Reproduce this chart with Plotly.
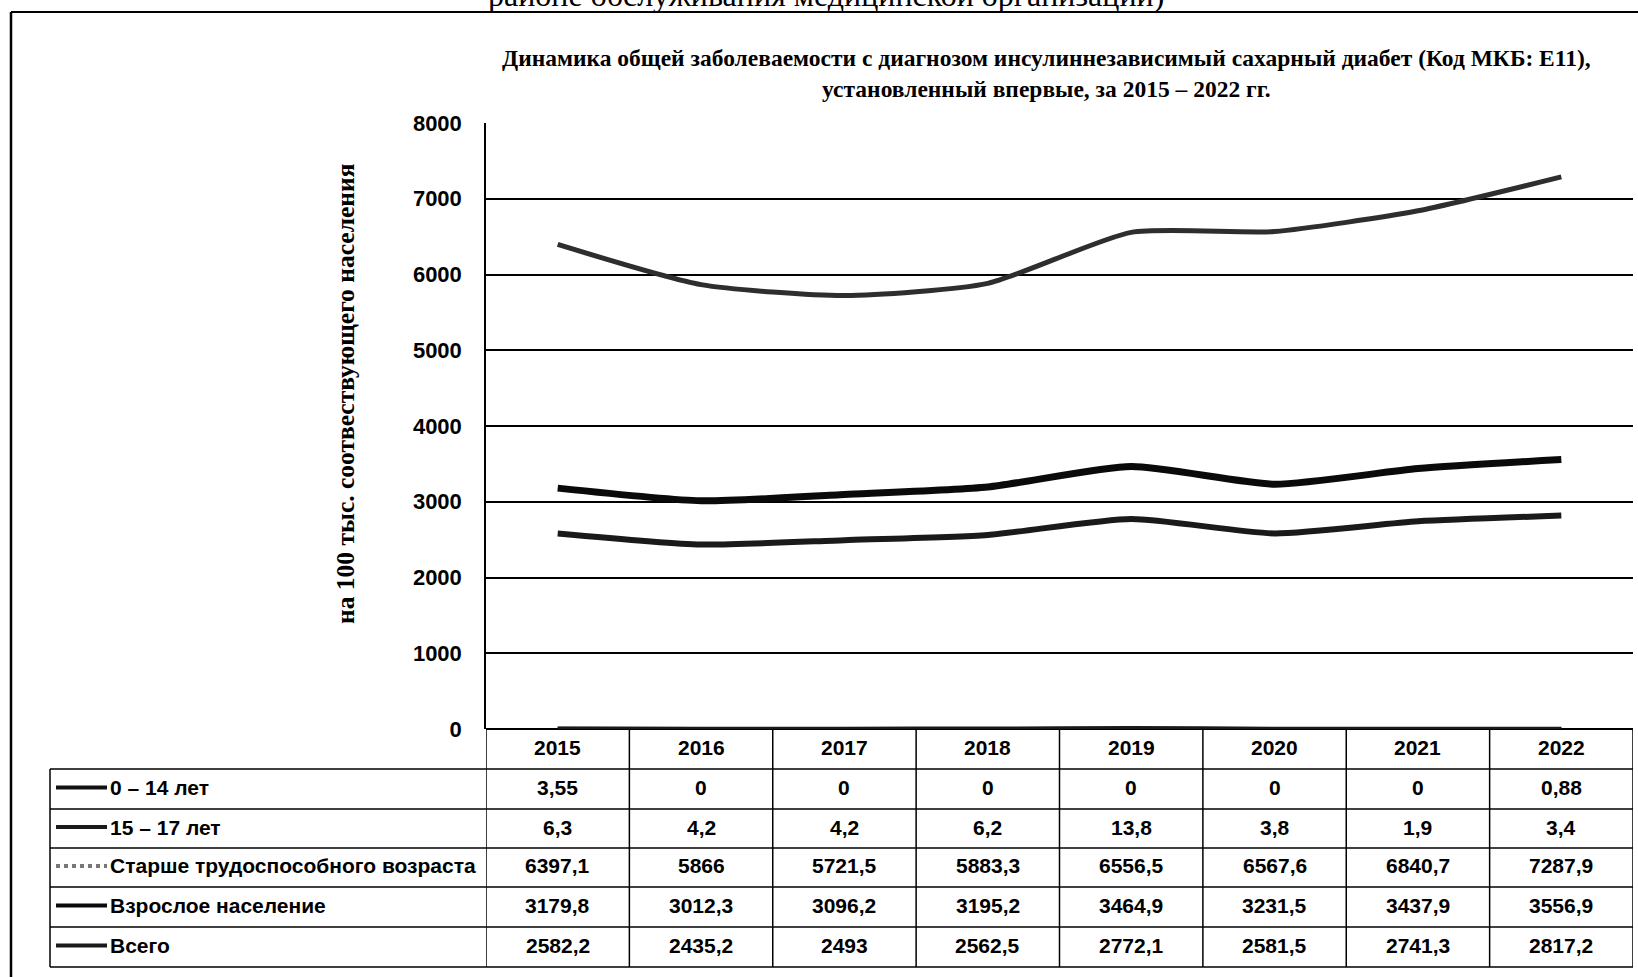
import plotly.graph_objects as go

# ---------------- data ----------------
years = ["2015", "2016", "2017", "2018", "2019", "2020", "2021", "2022"]
series_names = ["0 – 14 лет", "15 – 17 лет", "Старше трудоспособного возраста",
                "Взрослое население", "Всего"]
s_0_14 = [3.55, 0, 0, 0, 0, 0, 0, 0.88]
s_15_17 = [6.3, 4.2, 4.2, 6.2, 13.8, 3.8, 1.9, 3.4]
s_old = [6397.1, 5866, 5721.5, 5883.3, 6556.5, 6567.6, 6840.7, 7287.9]
s_adult = [3179.8, 3012.3, 3096.2, 3195.2, 3464.9, 3231.5, 3437.9, 3556.9]
s_total = [2582.2, 2435.2, 2493, 2562.5, 2772.1, 2581.5, 2741.3, 2817.2]
y_ticks = [0, 1000, 2000, 3000, 4000, 5000, 6000, 7000, 8000]

title_text = ("<b>Динамика общей заболеваемости с диагнозом инсулиннезависимый сахарный диабет (Код МКБ: E11),"
              "<br>установленный впервые, за 2015 – 2022 гг.</b>")
y_title = "<b>на 100 тыс. соотвествующего населения</b>"
top_text = "районе обслуживания медицинской организации)"

all_series = [s_0_14, s_15_17, s_old, s_adult, s_total]
colors = ["#111111", "#1a1a1a", "#2e2e2e", "#0a0a0a", "#1a1a1a"]
widths = [4, 4, 5, 7, 6]

# ---------------- geometry (pixels) ----------------
W, H = 1638, 977
L, R, T, B = 486, 5, 123, 248
PW = W - L - R
PH = H - T - B
y0px = T + PH  # pixel of value 0


def py(px):
    return (y0px - px) / PH


def pxx(px):
    return (px - L) / PW


fmt = lambda v: str(int(v)) if float(v).is_integer() else f"{v:g}".replace(".", ",")

fig = go.Figure()
for name, vals, c, w in zip(series_names, all_series, colors, widths):
    fig.add_trace(go.Scatter(x=list(range(len(years))), y=vals, mode="lines", name=name,
                             line=dict(color=c, width=w, shape="spline", smoothing=0.6),
                             showlegend=False, hovertemplate=name + ": %{y}<extra></extra>"))

shapes = []
annotations = []
line_k = dict(color="black", width=1.5)

# table rows (pixel boundaries)
row_edges = [y0px, 769, 809, 848, 887, 927, 967]
n = len(years)
# vertical column lines
for i in range(n + 1):
    shapes.append(dict(type="line", xref="x", yref="paper", x0=i - 0.5, x1=i - 0.5,
                       y0=py(row_edges[0]), y1=py(row_edges[-1]), line=line_k))
# horizontal row lines
for e in row_edges[1:]:
    shapes.append(dict(type="line", xref="paper", yref="paper", x0=pxx(50), x1=1.0,
                       y0=py(e), y1=py(e), line=line_k))
# left border of legend column
shapes.append(dict(type="line", xref="paper", yref="paper", x0=pxx(50), x1=pxx(50),
                   y0=py(row_edges[1]), y1=py(row_edges[-1]), line=line_k))

cell_font = dict(family="Liberation Sans, Arial, sans-serif", size=21, color="black")
bold = lambda s: "<b>" + s + "</b>"
# header years
for i, yr in enumerate(years):
    annotations.append(dict(x=i, xref="x", y=py((row_edges[0] + row_edges[1]) / 2 - 2), yref="paper",
                            text=bold(yr), showarrow=False, font=cell_font,
                            xanchor="center", yanchor="middle"))
# data rows
for r, (name, vals, c, w) in enumerate(zip(series_names, all_series, colors, widths)):
    yc = py((row_edges[r + 1] + row_edges[r + 2]) / 2 - 1.5)
    shapes.append(dict(type="line", xref="paper", yref="paper", x0=pxx(56), x1=pxx(107),
                       y0=yc, y1=yc, line=dict(color=c if r != 2 else "#777777", width=4,
                                               dash="solid" if r != 2 else "dot")))
    annotations.append(dict(x=pxx(108), xref="paper", y=yc, yref="paper", text=bold(name),
                            showarrow=False, font=cell_font, xanchor="left", yanchor="middle"))
    for i, v in enumerate(vals):
        annotations.append(dict(x=i, xref="x", y=yc, yref="paper", text=bold(fmt(v)),
                                showarrow=False, font=cell_font, xanchor="center", yanchor="middle"))

# frame of the page
shapes.append(dict(type="line", xref="paper", yref="paper", x0=pxx(11), x1=pxx(W),
                   y0=py(12), y1=py(12), line=dict(color="black", width=2)))
shapes.append(dict(type="line", xref="paper", yref="paper", x0=pxx(11), x1=pxx(11),
                   y0=py(12), y1=py(H), line=dict(color="black", width=2.5)))

# titles
annotations.append(dict(x=pxx(1046), y=py(73), xref="paper", yref="paper", text=title_text,
                        showarrow=False, xanchor="center", yanchor="middle",
                        font=dict(family="Liberation Serif, Times New Roman, serif", size=23.5, color="black")))
annotations.append(dict(x=pxx(345), y=py(394), xref="paper", yref="paper", text=y_title,
                        showarrow=False, textangle=-90, xanchor="center", yanchor="middle",
                        font=dict(family="Liberation Serif, Times New Roman, serif", size=25.5, color="black")))
annotations.append(dict(x=pxx(826), y=py(15), xref="paper", yref="paper", text=top_text,
                        showarrow=False, xanchor="center", yanchor="bottom",
                        font=dict(family="Liberation Serif, Times New Roman, serif", size=32, color="black")))

fig.update_layout(
    width=W, height=H,
    margin=dict(l=L, r=R, t=T, b=B, pad=0),
    paper_bgcolor="white", plot_bgcolor="white",
    shapes=shapes, annotations=annotations,
    xaxis=dict(range=[-0.5, n - 0.5], showticklabels=False, showgrid=False,
               zeroline=False, showline=False, ticks=""),
    yaxis=dict(range=[0, 8000], tickvals=y_ticks, showgrid=True, gridcolor="black", gridwidth=1.5,
               zeroline=True, zerolinecolor="black", zerolinewidth=2,
               showline=True, linecolor="black", linewidth=1.5, ticks="",
               ticklabelstandoff=18,
               tickfont=dict(family="Liberation Sans, Arial, sans-serif", size=22, color="black",
                             weight="bold")),
)

fig.write_html("out.html", config={"displayModeBar": False},
               post_script="document.body.style.margin='0';")
